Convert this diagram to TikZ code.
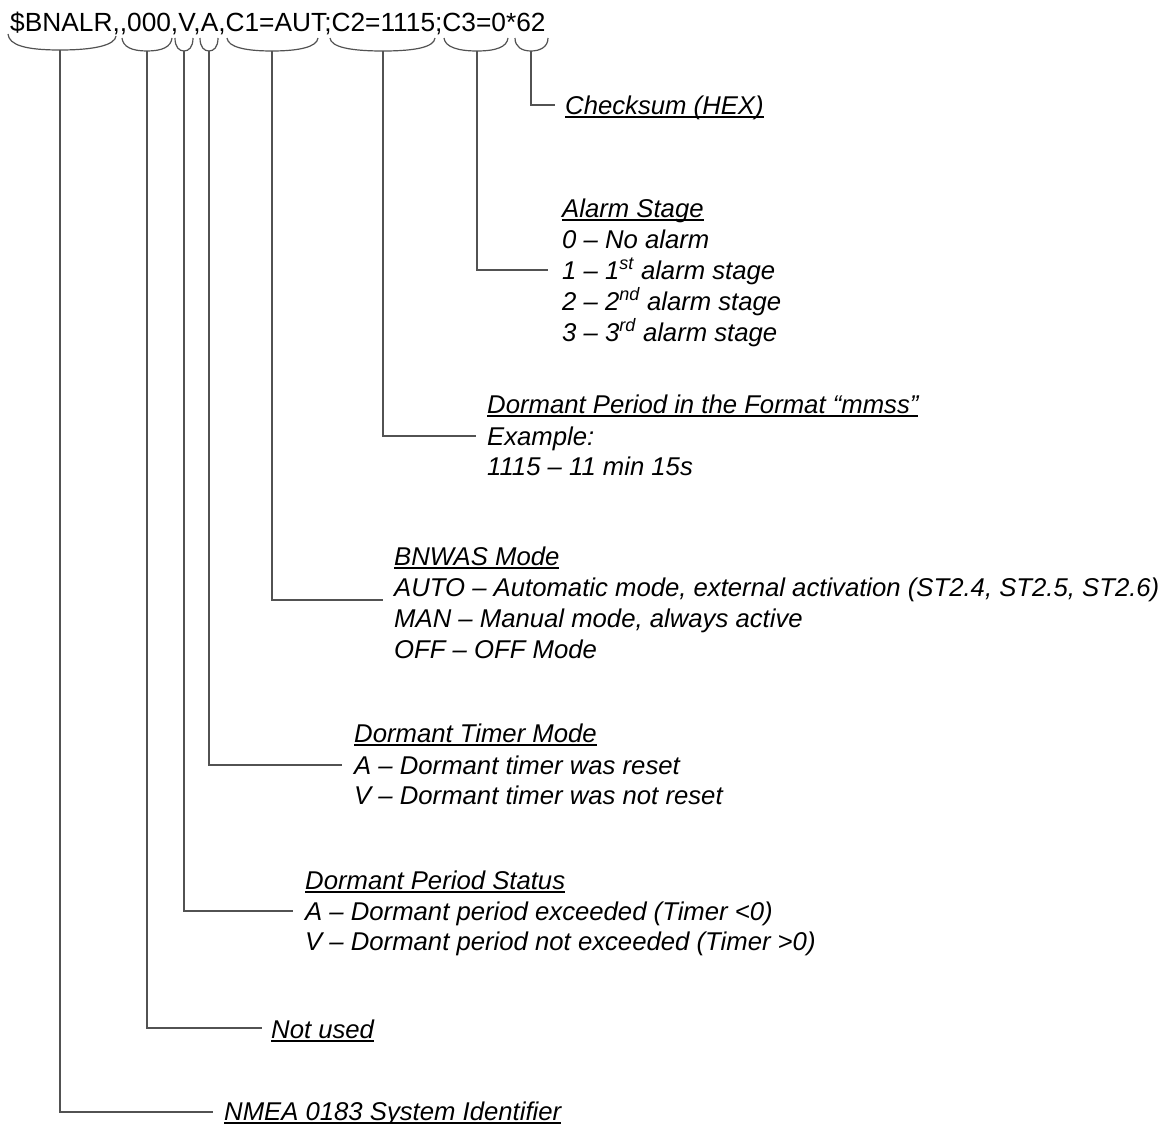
\documentclass[tikz,border=0pt]{standalone}
\usepackage{fontspec}
\setmainfont{Liberation Sans}
\newcommand\myul[1]{\setbox0\hbox{#1}\rlap{\rule[-0.14em]{\wd0}{0.06em}}\box0}
\tikzset{
  lbl/.style={anchor=base west, inner sep=0pt, font=\fontsize{25.7}{31}\selectfont\itshape},
  code/.style={anchor=base west, inner sep=0pt, font=\fontsize{26.3}{31}\selectfont},
  lead/.style={draw=black!68, line width=1.2pt},
}
\begin{document}
\begin{tikzpicture}[x=1pt,y=-1pt]
\useasboundingbox (0,0) rectangle (1170,1124);
% top sentence
\node[code] (s) at (10,32) {\$BNALR,{},000,V,A,C1=AUT;C2=1115;C3=0*62};

% braces: left top, bottom middle, right top
\coordinate (b1) at (60,50);  \coordinate (b2) at (147,51); \coordinate (b3) at (184,51);
\coordinate (b4) at (209,51); \coordinate (b5) at (272,51); \coordinate (b6) at (383,51);
\coordinate (b7) at (477,51); \coordinate (b8) at (531,51);
\draw[lead] (8,34) .. controls (9,45) and (25,50) .. (b1) .. controls (95,50) and (115,45) .. (116,36);
\draw[lead] (122,38) .. controls (123,47) and (132,51) .. (b2) .. controls (162,51) and (171,47) .. (172,38);
\draw[lead] (175,38) .. controls (175,47) and (179,51) .. (b3) .. controls (189,51) and (193,47) .. (193,38);
\draw[lead] (200,38) .. controls (200,47) and (204,51) .. (b4) .. controls (214,51) and (218,47) .. (218,38);
\draw[lead] (227,38) .. controls (228,47) and (245,51) .. (b5) .. controls (299,51) and (317,47) .. (318,38);
\draw[lead] (330,38) .. controls (331,47) and (350,51) .. (b6) .. controls (416,51) and (434,47) .. (435,38);
\draw[lead] (444,38) .. controls (445,47) and (458,51) .. (b7) .. controls (496,51) and (507,47) .. (508,38);
\draw[lead] (515,38) .. controls (515,47) and (522,51) .. (b8) .. controls (540,51) and (548,47) .. (548,38);

% connector ends
\coordinate (e8) at (555,105);
\coordinate (e7) at (548,270);
\coordinate (e6) at (476,436);
\coordinate (e5) at (383,600);
\coordinate (e4) at (342,765);
\coordinate (e3) at (293,911);
\coordinate (e2) at (262,1028);
\coordinate (e1) at (213,1112);
\draw[lead] (b8) |- (e8);
\draw[lead] (b7) |- (e7);
\draw[lead] (b6) |- (e6);
\draw[lead] (b5) |- (e5);
\draw[lead] (b4) |- (e4);
\draw[lead] (b3) |- (e3);
\draw[lead] (b2) |- (e2);
\draw[lead] (b1) |- (e1);

% labels
\node[lbl] (chk) at (565,114) {\myul{Checksum (HEX)}};

\node[lbl] (al0) at (562,217) {\myul{Alarm Stage}};
\node[lbl] (al1) at (562,248) {0 -- No alarm};
\node[lbl] (al2) at (562,279) {1 -- 1\textsuperscript{st} alarm stage};
\node[lbl] (al3) at (562,310) {2 -- 2\textsuperscript{nd} alarm stage};
\node[lbl] (al4) at (562,341) {3 -- 3\textsuperscript{rd} alarm stage};

\node[lbl] (dp0) at (487,413) {\myul{Dormant Period in the Format “mmss”}};
\node[lbl] (dp1) at (487,445) {Example:};
\node[lbl] (dp2) at (487,475) {1115 -- 11 min 15s};

\node[lbl] (bn0) at (394,565) {\myul{BNWAS Mode}};
\node[lbl] (bn1) at (394,596) {AUTO -- Automatic mode, external activation (ST2.4, ST2.5, ST2.6)};
\node[lbl] (bn2) at (394,627) {MAN -- Manual mode, always active};
\node[lbl] (bn3) at (394,658) {OFF -- OFF Mode};

\node[lbl] (dt0) at (354,742) {\myul{Dormant Timer Mode}};
\node[lbl] (dt1) at (354,774) {A -- Dormant timer was reset};
\node[lbl] (dt2) at (354,804) {V -- Dormant timer was not reset};

\node[lbl] (ds0) at (305,889) {\myul{Dormant Period Status}};
\node[lbl] (ds1) at (305,920) {A -- Dormant period exceeded (Timer <0)};
\node[lbl] (ds2) at (305,950) {V -- Dormant period not exceeded (Timer >0)};

\node[lbl] (nu) at (271,1038) {\myul{Not used}};
\node[lbl] (nm) at (224,1120) {\myul{NMEA 0183 System Identifier}};
\end{tikzpicture}
\end{document}
